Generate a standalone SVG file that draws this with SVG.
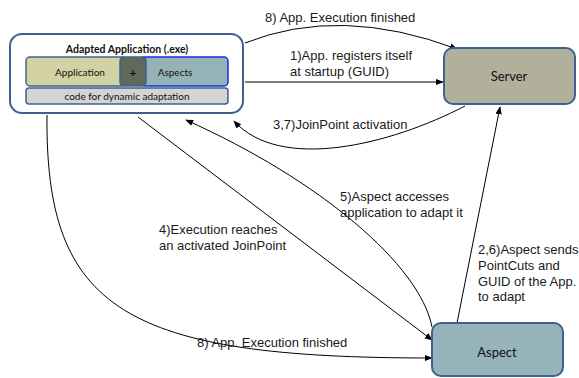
<svg xmlns="http://www.w3.org/2000/svg" width="579" height="378" viewBox="0 0 579 378">
<defs>
<marker id="ah" viewBox="0 0 10 10" refX="9" refY="5" markerWidth="8" markerHeight="8" markerUnits="userSpaceOnUse" orient="auto">
<path d="M0,1 L10,5 L0,9 z" fill="#000"/>
</marker>
<style>
.lbl{font-family:"Liberation Sans",Arial,sans-serif;font-size:13px;fill:#1a1a1a}
.nt{font-family:Lato,"Open Sans",sans-serif;fill:#111}
.con{fill:none;stroke:#000;stroke-width:1;marker-end:url(#ah)}
</style>
</defs>
<rect width="579" height="378" fill="#fff"/>
<g id="connectors">
<path class="con" d="M245,43 Q340,5 457,49"/>
<path class="con" d="M245,82 L443,82"/>
<path class="con" d="M465,106 C390,145 280,172 234,121"/>
<path class="con" d="M138,117 L432,340"/>
<path class="con" d="M432,327 C420,265 320,180 186,120"/>
<path class="con" d="M457,323 L500,107"/>
<path class="con" d="M47,115 C45,310 125,358 432,358"/>
<text class="lbl" x="265" y="22">8) App. Execution finished</text>
<text class="lbl" x="290" y="60">1)App. registers itself</text>
<text class="lbl" x="290" y="76">at startup (GUID)</text>
<text class="lbl" x="273" y="129">3,7)JoinPoint activation</text>
<text class="lbl" x="159" y="234">4)Execution reaches</text>
<text class="lbl" x="159" y="250">an activated JoinPoint</text>
<text class="lbl" x="340" y="201">5)Aspect accesses</text>
<text class="lbl" x="340" y="217">application to adapt it</text>
<text class="lbl" x="478" y="254">2,6)Aspect sends</text>
<text class="lbl" x="478" y="270">PointCuts and</text>
<text class="lbl" x="478" y="286">GUID of the App.</text>
<text class="lbl" x="478" y="301">to adapt</text>
<text class="lbl" x="197" y="347">8) App. Execution finished</text>
</g>
<g id="app">
<rect x="10" y="34" width="233" height="79" rx="12" fill="#fff" stroke="#3e6191" stroke-width="2"/>
<text class="nt" x="127" y="53" font-size="10.5" font-weight="bold" text-anchor="middle">Adapted Application (.exe)</text>
<rect x="26" y="57" width="100" height="29" rx="4" fill="#d3d2a2" stroke="#3e6191" stroke-width="1.5"/>
<rect x="140" y="57" width="88" height="29" rx="4" fill="#95b3b7" stroke="#1030e0" stroke-width="1.5"/>
<rect x="120" y="57" width="26" height="29" rx="4" fill="#5f695c" stroke="#3e6191" stroke-width="1.5"/>
<text class="nt" x="80" y="76" font-size="10" text-anchor="middle">Application</text>
<text class="nt" x="133" y="77" font-size="12" font-weight="bold" text-anchor="middle">+</text>
<text class="nt" x="175" y="76" font-size="10" text-anchor="middle">Aspects</text>
<rect x="26" y="88" width="202" height="16" rx="3" fill="#d6d3d3" stroke="#3e6191" stroke-width="1.5"/>
<text class="nt" x="127" y="99.5" font-size="10" text-anchor="middle">code for dynamic adaptation</text>
</g>
<g id="server">
<rect x="444" y="48" width="131" height="56" rx="9" fill="#b0b09b" stroke="#3e6191" stroke-width="2"/>
<text class="nt" x="509" y="81" font-size="13" text-anchor="middle">Server</text>
</g>
<g id="aspect">
<rect x="432" y="323" width="131" height="53" rx="9" fill="#95b3b8" stroke="#3e6191" stroke-width="2"/>
<text class="nt" x="497" y="357" font-size="13" text-anchor="middle">Aspect</text>
</g>
</svg>
